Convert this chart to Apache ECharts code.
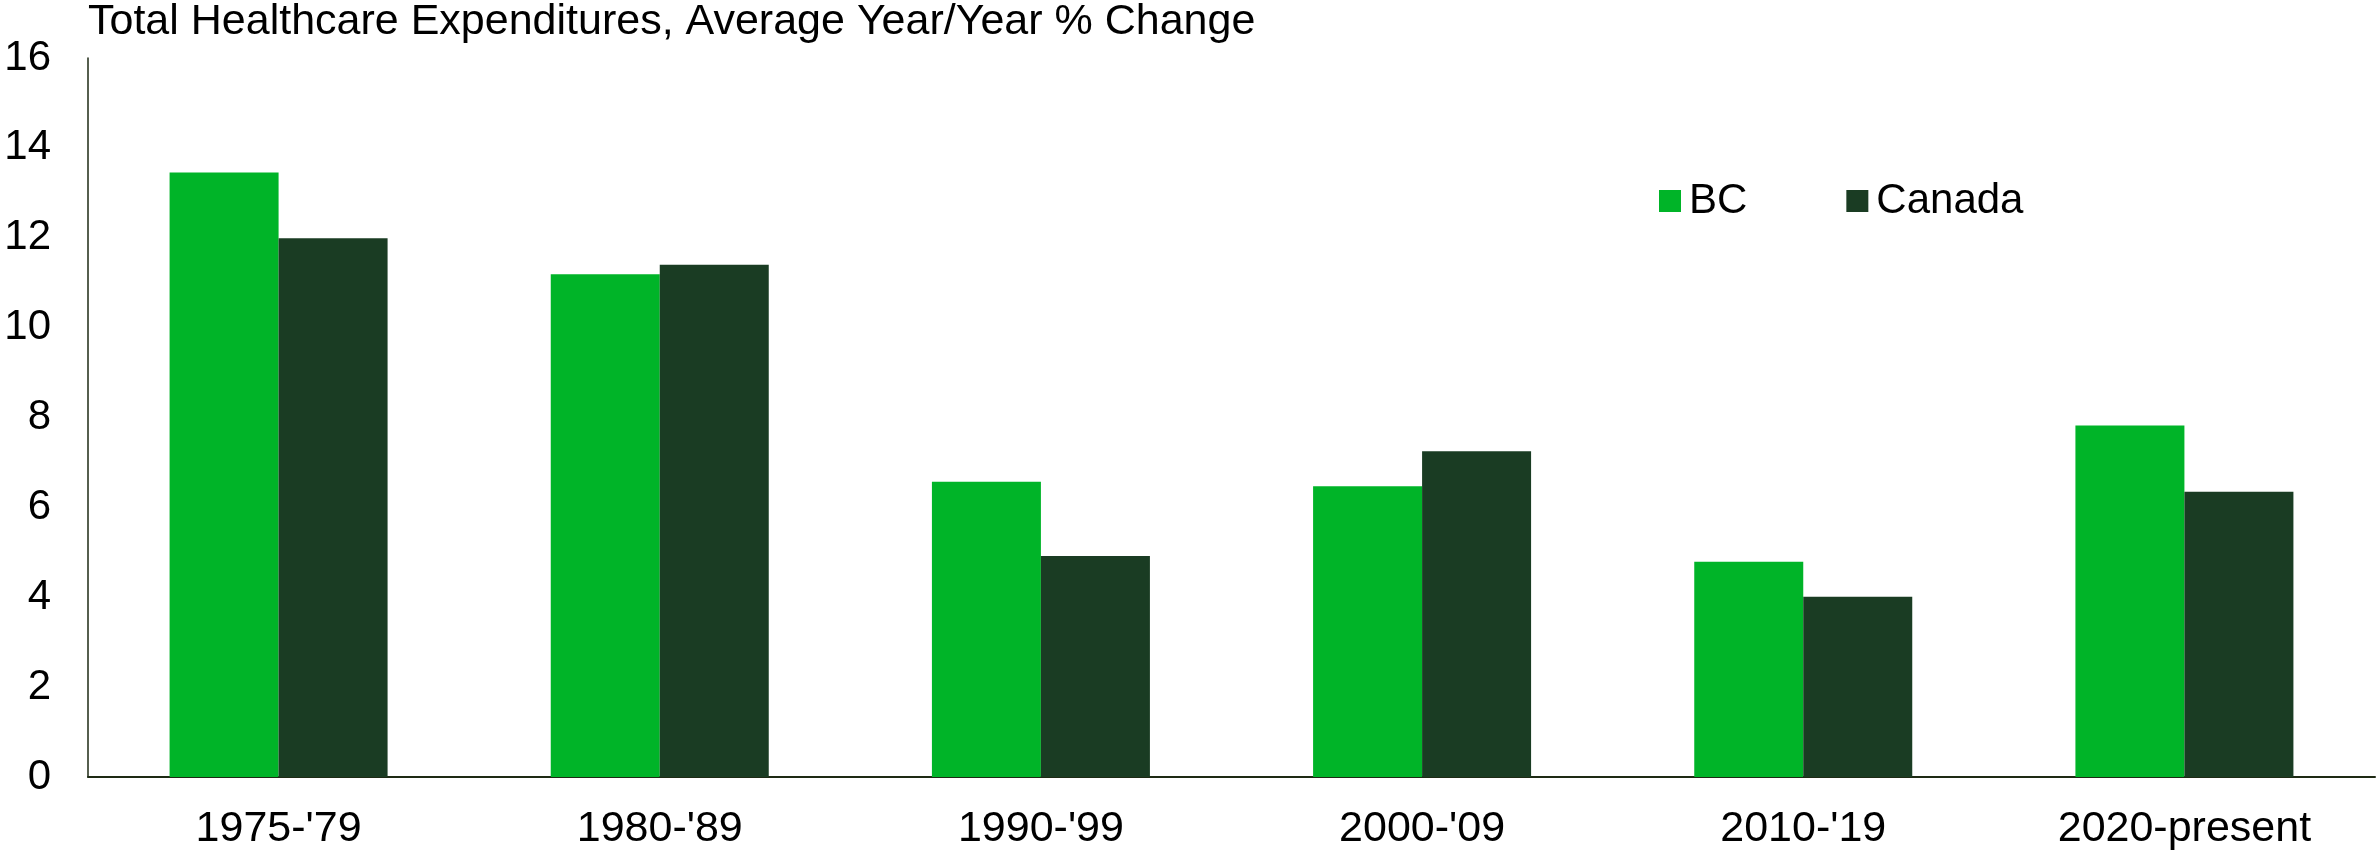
<!DOCTYPE html>
<html>
<head>
<meta charset="utf-8">
<script src="https://cdn.jsdelivr.net/npm/echarts@6/dist/echarts.min.js"></script>
<style>
  html, body { margin: 0; padding: 0; background: #fff; }
  #chart { width: 2376px; height: 851px; }
</style>
</head>
<body>
<div id="chart"></div>
<script>
// ----------------------
// DATA
// ----------------------
const periods = ["1975-'79", "1980-'89", "1990-'99", "2000-'09", "2010-'19", "2020-present"];
const bcValues = [13.45, 11.19, 6.57, 6.47, 4.79, 7.82];
const canadaValues = [11.99, 11.4, 4.92, 7.25, 4.01, 6.35];
const yTicks = [0, 2, 4, 6, 8, 10, 12, 14, 16];

const FONT = "Liberation Sans, Arial, sans-serif";

// ----------------------
// CHART
// ----------------------
const chart = echarts.init(document.getElementById("chart"));

chart.setOption({
  animation: false,
  title: {
    text: "Total Healthcare Expenditures, Average Year/Year % Change",
    left: 88,
    top: 1,
    padding: 0,
    textStyle: { fontFamily: FONT, fontSize: 43, fontWeight: "normal", color: "#000" },
  },
  legend: {
    left: 1659,
    top: 180,
    padding: 0,
    icon: "rect",
    itemWidth: 22,
    itemHeight: 22,
    itemGap: 99,
    textStyle: { fontFamily: FONT, fontSize: 42, color: "#000", padding: [0, 0, 0, 3] },
    data: ["BC", "Canada"],
  },
  grid: { left: 88, right: 1, top: 58, bottom: 74 },
  xAxis: {
    type: "category",
    data: periods,
    axisLine: { lineStyle: { color: "#1e2a14", width: 2 } },
    axisTick: { show: false },
    axisLabel: { fontFamily: FONT, fontSize: 43, color: "#000", margin: 31 },
  },
  yAxis: {
    type: "value",
    min: yTicks[0],
    max: yTicks[yTicks.length - 1],
    interval: 2,
    axisLine: { show: true, lineStyle: { color: "#1e2a14", width: 1.5 } },
    axisTick: { show: false },
    splitLine: { show: false },
    axisLabel: { fontFamily: FONT, fontSize: 42, color: "#000", margin: 37 },
  },
  series: [
    {
      name: "BC",
      type: "bar",
      data: bcValues,
      barWidth: 109,
      barGap: "0%",
      itemStyle: { color: "#00b428" },
    },
    {
      name: "Canada",
      type: "bar",
      data: canadaValues,
      barWidth: 109,
      itemStyle: { color: "#1a3c23" },
    },
  ],
});
</script>
</body>
</html>
